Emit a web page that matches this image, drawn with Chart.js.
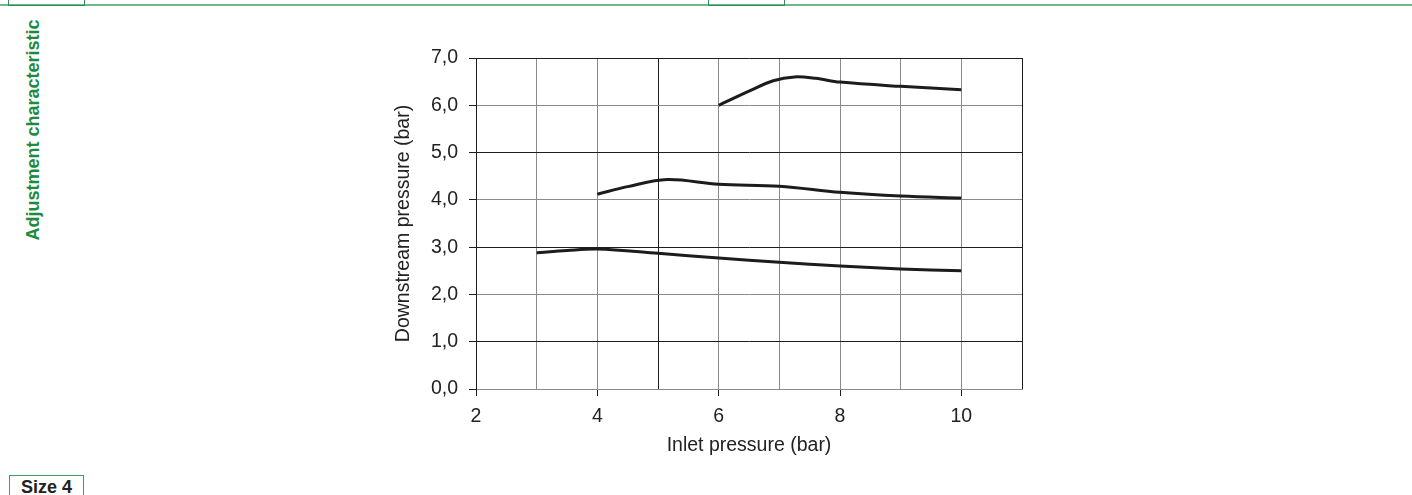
<!DOCTYPE html>
<html>
<head>
<meta charset="utf-8">
<script src="https://cdn.jsdelivr.net/npm/chart.js@4/dist/chart.umd.min.js"></script>
<style>
  html, body { margin: 0; padding: 0; background: #fff; }
  body { width: 1412px; height: 495px; position: relative; overflow: hidden; font-family: "Liberation Sans", Arial, sans-serif; }
  #wrap { position: absolute; left: 0; top: 0; width: 1412px; height: 495px; }
  .topline { position: absolute; left: 0; top: 4px; width: 1412px; height: 2px; background: #6fb88c; }
  .tab { position: absolute; top: -2px; height: 7px; border: 1px solid #2f8f55; border-top: none; }
  .side { position: absolute; left: 33px; top: 130px; transform: translate(-50%, -50%) rotate(-90deg); white-space: nowrap;
          color: #1d8a3e; font-weight: bold; font-size: 18px; }
  .size { position: absolute; left: 9px; top: 475px; width: 75px; height: 30px; border: 1.5px solid #3d9e68; box-sizing: border-box;
          padding-top: 2px; font-weight: bold; font-size: 18px; color: #222; text-align: center; line-height: 18px; }
</style>
</head>
<body>
<div class="topline"></div>
<div class="tab" style="left:8px;width:75px;"></div>
<div class="tab" style="left:708px;width:75px;"></div>
<div class="side">Adjustment characteristic</div>
<div class="size">Size 4</div>
<div id="wrap"><canvas id="c" width="1412" height="495"></canvas></div>
<script>
// Data
const xLabels = ['2', '4', '6', '8', '10'];
const yLabels = ['0,0', '1,0', '2,0', '3,0', '4,0', '5,0', '6,0', '7,0'];

const curveHighX = [6, 6.5, 6.9, 7.25, 7.6, 8, 9, 10];
const curveHighY = [6.0, 6.3, 6.52, 6.6, 6.57, 6.49, 6.4, 6.33];

const curveMidX = [4, 4.5, 5.15, 6, 7, 8, 9, 10];
const curveMidY = [4.12, 4.28, 4.43, 4.33, 4.29, 4.16, 4.08, 4.04];

const curveLowX = [3, 3.5, 4, 5, 6, 7, 8, 9, 10];
const curveLowY = [2.88, 2.93, 2.96, 2.87, 2.77, 2.68, 2.60, 2.54, 2.50];

function pts(xs, ys) { return xs.map((x, i) => ({ x: x, y: ys[i] })); }

const lineStyle = { borderColor: '#1c1c1c', borderWidth: 3, pointRadius: 0, tension: 0.35, fill: false };

const font = { family: '"Liberation Sans", Arial, sans-serif', size: 19.5 };

new Chart(document.getElementById('c'), {
  type: 'line',
  data: {
    datasets: [
      Object.assign({ label: 'high', data: pts(curveHighX, curveHighY) }, lineStyle),
      Object.assign({ label: 'mid', data: pts(curveMidX, curveMidY) }, lineStyle),
      Object.assign({ label: 'low', data: pts(curveLowX, curveLowY) }, lineStyle)
    ]
  },
  options: {
    responsive: false,
    animation: false,
    events: [],
    layout: { padding: { left: 380, right: 390, top: 58, bottom: 36 } },
    plugins: { legend: { display: false }, tooltip: { enabled: false } },
    scales: {
      x: {
        type: 'linear', min: 2, max: 11,
        afterFit: s => { s.height = 70; },
        ticks: {
          stepSize: 1, color: '#222', font: font, padding: 9, maxRotation: 0, autoSkip: false,
          callback: v => { const i = xLabels.indexOf(String(v)); return i >= 0 ? xLabels[i] : ''; }
        },
        grid: {
          lineWidth: 1, tickLength: 7,
          color: c => ([5, 11].includes(c.tick && c.tick.value) ? '#1e1e1e' : '#8a8a8a'),
          tickColor: c => (c.tick && c.tick.value % 2 === 0 ? '#1e1e1e' : 'rgba(0,0,0,0)')
        },
        border: { display: true, color: '#8a8a8a', width: 1 },
        title: { display: true, text: 'Inlet pressure (bar)', color: '#222', font: font, padding: { top: 4, bottom: 2 } }
      },
      y: {
        type: 'linear', min: 0, max: 7,
        afterFit: s => { s.width = 96; },
        ticks: {
          stepSize: 1, color: '#222', font: font, padding: 11,
          callback: v => yLabels[Math.round(v)]
        },
        grid: {
          lineWidth: 1, tickLength: 7,
          color: c => ((c.tick && c.tick.value % 2 === 1) ? '#1e1e1e' : '#8a8a8a'),
          tickColor: '#1e1e1e'
        },
        border: { display: true, color: '#1e1e1e', width: 1 },
        title: { display: true, text: 'Downstream pressure (bar)', color: '#222', font: font, padding: { top: 12, bottom: 4 } }
      }
    }
  }
});
</script>
</body>
</html>
